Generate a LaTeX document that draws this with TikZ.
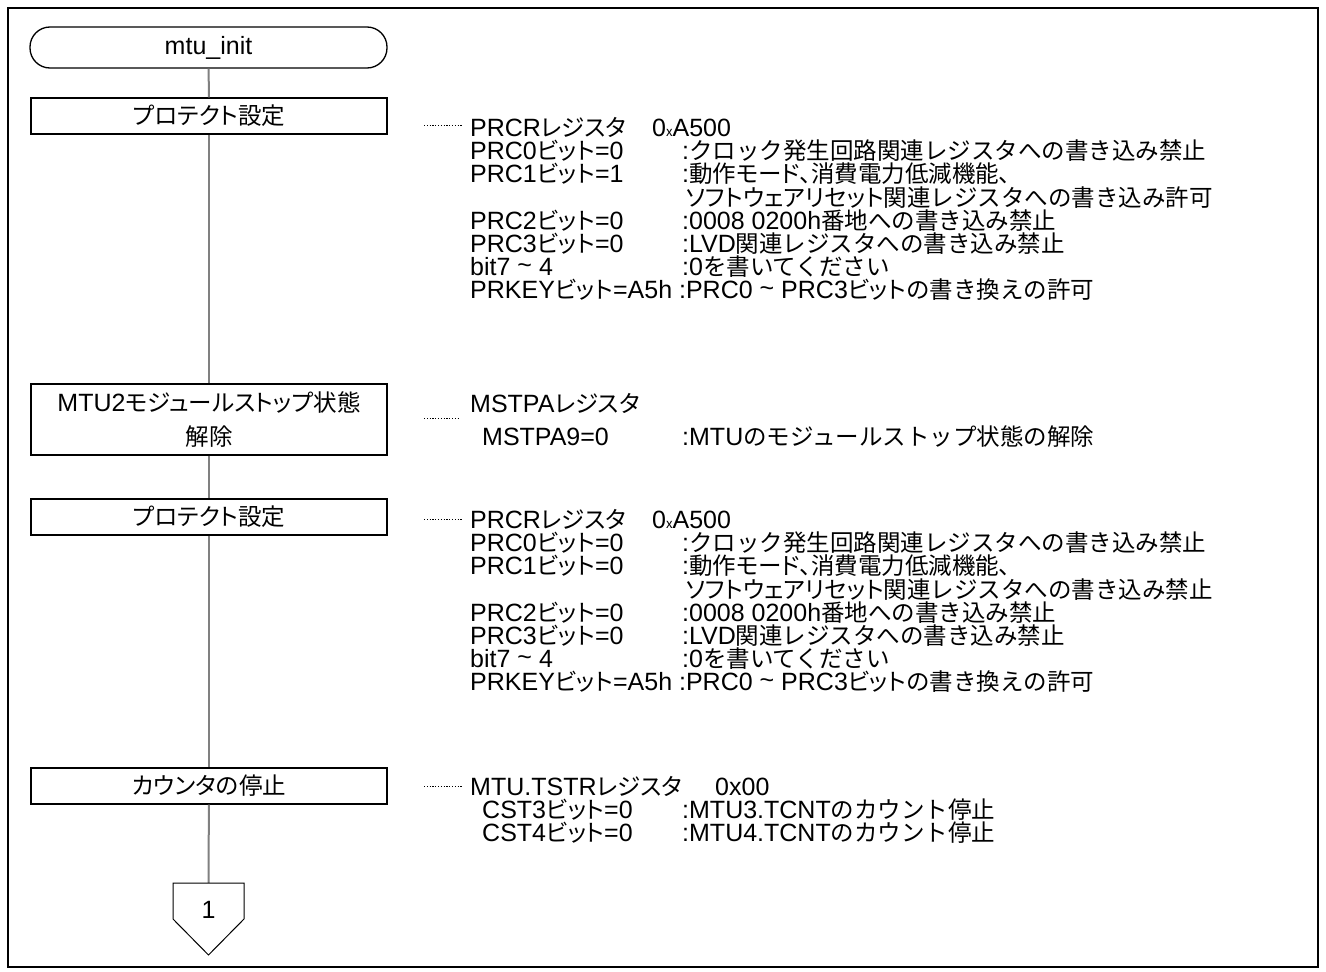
\documentclass[tikz,border=0pt]{standalone}
\usepackage{fontspec}
\setmainfont{Liberation Sans}
\newfontfamily\jp[Scale=0.94]{Noto Sans CJK JP}
\newfontfamily\jpp[Scale=0.94,RawFeature=+palt]{Noto Sans CJK JP}
\newcommand\J[1]{{\jp #1}}
\newcommand\Jp[1]{{\jpp #1}}
\newcommand\Bit{{\jpp ビット}}
\newcommand\tld{\raisebox{0.15ex}{\textasciitilde}}
\newcommand\smx{{\jp\fontsize{14}{14}\selectfont x}}
\begin{document}
\begin{tikzpicture}[x=1pt,y=-1pt,
  every node/.style={font=\fontsize{25}{34}\selectfont, inner sep=0pt},
  term/.style={draw, line width=1.3pt, fill=white, rounded corners=20pt, minimum width=357pt, minimum height=41pt},
  proc/.style={draw, line width=1.3pt, fill=white, minimum width=356pt, minimum height=36pt, align=center},
  flow/.style={draw=black!50, line width=2pt},
  lead/.style={draw, line width=0.8pt, dash pattern=on 1.2pt off 1.6pt},
  txt/.style={anchor=base west, text height=15pt, text depth=4pt},
]
\useasboundingbox (0,0) rectangle (1326,972);
\draw[line width=2pt] (8,8) rectangle (1318,967);

\coordinate (ctop) at (208.5,883);
\node[term] (t) at (208.5,47.5) {mtu\_init};
\node[proc] (b1) at (209,116) {\Jp{プロテクト設定}};
\node[proc, minimum height=71pt] (b2) at (209,419.5) {MTU2\Jp{モジュールストップ状態}\\[-0.5pt]\Jp{解除}};
\node[proc] (b3) at (209,517) {\Jp{プロテクト設定}};
\node[proc] (b4) at (209,786) {\Jp{カウンタの停止}};
\draw[flow] (t) -- (b1);
\draw[flow] (b1) -- (b2);
\draw[flow] (b2) -- (b3);
\draw[flow] (b3) -- (b4);
\draw[flow] (b4) -- (ctop);

% off-page connector
\draw[line width=1pt, fill=white] (ctop) -- (244,883) -- (244,919) -- (208.5,955) -- (173,919) -- (173,883) -- cycle;
\node (c1) at (208.5,910) {1};

% leaders
\draw[lead] (424,125) -- (462,125);
\draw[lead] (424,418) -- (458,418);
\draw[lead] (424,519) -- (462,519);
\draw[lead] (424,786) -- (462,786);

% section 1
\node[txt] (a0) at (470,136) {\makebox[182pt][l]{PRCR\Jp{レジスタ}}0\smx A500};
\node[txt] (a1) at (470,159) {PRC0\Bit=0};
\node[txt] (a1d) at (682,159) {:\J{クロック発生回路関連レジスタへの書き込み禁止}};
\node[txt] (a2) at (470,182) {PRC1\Bit=1};
\node[txt] (a2d) at (682,182) {:\J{動作}\Jp{モード、}\J{消費電力低減機能}\Jp{、}};
\node[txt] (a3d) at (686,206) {\Jp{ソフトウェアリセット}\J{関連レジスタへの書き込み許可}};
\node[txt] (a4) at (470,229) {PRC2\Bit=0};
\node[txt] (a4d) at (682,229) {:0008 0200h\J{番地への書き込み禁止}};
\node[txt] (a5) at (470,252) {PRC3\Bit=0};
\node[txt] (a5d) at (682,252) {:LVD\J{関連レジスタへの書き込み禁止}};
\node[txt] (a6) at (470,275) {bit7 \tld\ 4};
\node[txt] (a6d) at (682,275) {:0\J{を書いてください}};
\node[txt] (a7) at (470,298) {PRKEY\Bit=A5h :PRC0 \tld\ PRC3\Bit\J{の書き換えの許可}};

% section 2
\node[txt] (m0) at (470,412) {MSTPA\Jp{レジスタ}};
\node[txt] (m1) at (482,445) {MSTPA9=0};
\node[txt] (m1d) at (682,445) {:MTU\J{のモジュールストップ状態の解除}};

% section 3
\node[txt] (p0) at (470,528) {\makebox[182pt][l]{PRCR\Jp{レジスタ}}0\smx A500};
\node[txt] (p1) at (470,551) {PRC0\Bit=0};
\node[txt] (p1d) at (682,551) {:\J{クロック発生回路関連レジスタへの書き込み禁止}};
\node[txt] (p2) at (470,574) {PRC1\Bit=0};
\node[txt] (p2d) at (682,574) {:\J{動作}\Jp{モード、}\J{消費電力低減機能}\Jp{、}};
\node[txt] (p3d) at (686,598) {\Jp{ソフトウェアリセット}\J{関連レジスタへの書き込み禁止}};
\node[txt] (p4) at (470,621) {PRC2\Bit=0};
\node[txt] (p4d) at (682,621) {:0008 0200h\J{番地への書き込み禁止}};
\node[txt] (p5) at (470,644) {PRC3\Bit=0};
\node[txt] (p5d) at (682,644) {:LVD\J{関連レジスタへの書き込み禁止}};
\node[txt] (p6) at (470,667) {bit7 \tld\ 4};
\node[txt] (p6d) at (682,667) {:0\J{を書いてください}};
\node[txt] (p7) at (470,690) {PRKEY\Bit=A5h :PRC0 \tld\ PRC3\Bit\J{の書き換えの許可}};

% section 4
\node[txt] (q0) at (470,795) {\makebox[245pt][l]{MTU.TSTR\Jp{レジスタ}}0x00};
\node[txt] (q1) at (482,818) {CST3\Bit=0};
\node[txt] (q1d) at (682,818) {:MTU3.TCNT\J{のカウント停止}};
\node[txt] (q2) at (482,841) {CST4\Bit=0};
\node[txt] (q2d) at (682,841) {:MTU4.TCNT\J{のカウント停止}};
\end{tikzpicture}
\end{document}
